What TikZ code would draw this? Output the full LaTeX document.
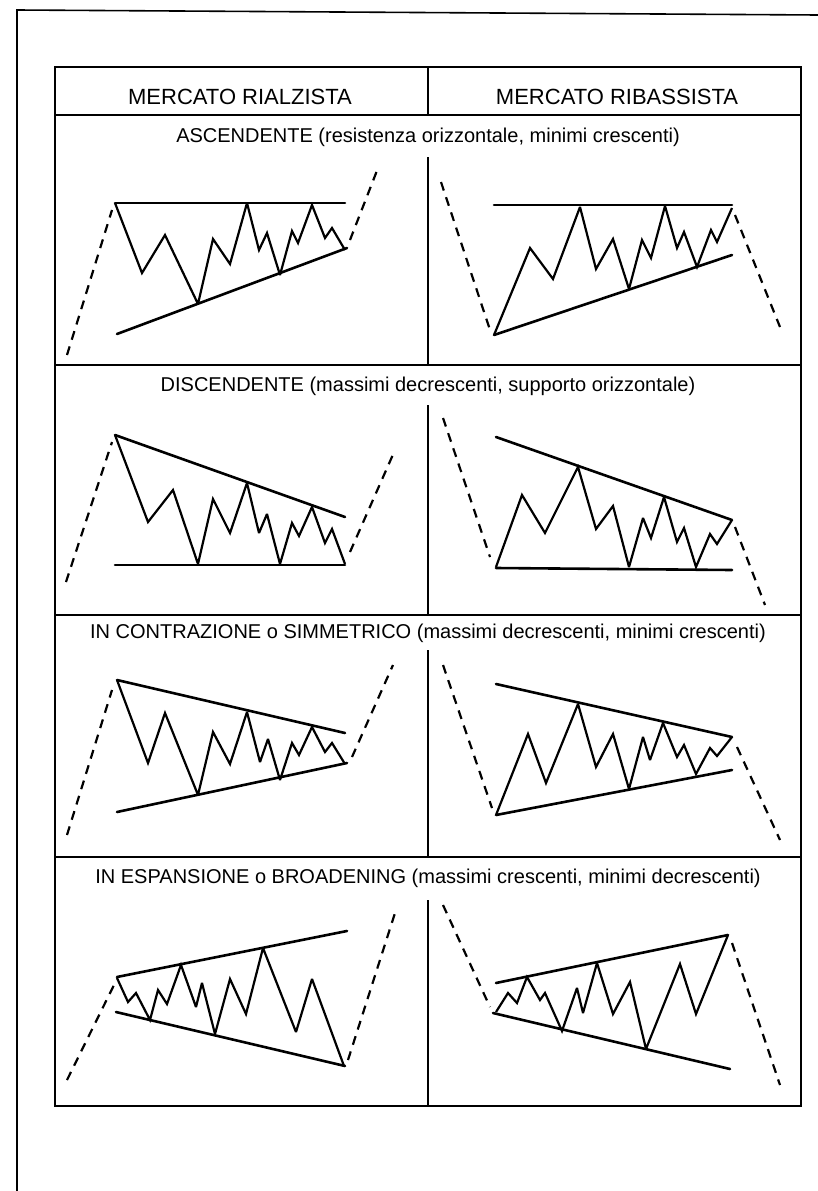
\documentclass[tikz,border=0pt]{standalone}
\usepackage{fontspec}
\setmainfont{Liberation Sans}
\usetikzlibrary{positioning}
\tikzstyle{frame}    = [line width=1.6pt]
\tikzstyle{trend}    = [line width=2.6pt, line cap=round]
\tikzstyle{price}    = [line width=2.2pt, line join=miter, miter limit=3]
\tikzstyle{breakout} = [line width=2.2pt, dash pattern=on 9pt off 7pt]
\tikzstyle{header}   = [inner sep=0pt, font=\fontsize{22}{24}\selectfont]
\tikzstyle{title}    = [inner sep=0pt, font=\fontsize{20}{22}\selectfont]

\begin{document}
\begin{tikzpicture}[x=1pt,y=-1pt]

\useasboundingbox (0,0) rectangle (818,1191);

\draw[frame] (17,1191) -- (17,10) -- (818,15);

\draw[frame] (55,67) rectangle (801,1106);
\draw[frame] (55,115) -- (801,115);
\draw[frame] (55,365) -- (801,365);
\draw[frame] (55,615) -- (801,615);
\draw[frame] (55,857) -- (801,857);

\draw[frame] (428,67) -- (428,115);
\draw[frame] (428,157) -- (428,365);
\draw[frame] (428,405) -- (428,615);
\draw[frame] (428,650) -- (428,857);
\draw[frame] (428,900) -- (428,1106);

\node[header] (bull) at (240,97) {MERCATO RIALZISTA};
\node[header] (bear) at (617,97) {MERCATO RIBASSISTA};

\node[title] (asc) at (428,137) {ASCENDENTE (resistenza orizzontale, minimi crescenti)};
\node[title] (disc) at (428,386) {DISCENDENTE (massimi decrescenti, supporto orizzontale)};
\node[title] (sym) at (428,633) {IN CONTRAZIONE o SIMMETRICO (massimi decrescenti, minimi crescenti)};
\node[title] (broad) at (428,878) {IN ESPANSIONE o BROADENING (massimi crescenti, minimi decrescenti)};

\draw[trend] (115,203) -- (345,203);
\draw[trend] (117,334) -- (347,248);
\draw[price] (115,203) -- (142,273) -- (165,235) -- (198,304) -- (213,239) -- (230,264) -- (247,203) -- (259,250) -- (267,233) -- (280,275) -- (292,231) -- (298,243) -- (312,205) -- (325,238) -- (332,228) -- (345,250);
\draw[breakout] (67,355) -- (112,210);
\draw[breakout] (350,240) -- (378,168);

\draw[trend] (494,205) -- (732,205);
\draw[trend] (494,335) -- (732,255);
\draw[price] (494,335) -- (530,248) -- (553,279) -- (580,207) -- (596,269) -- (613,239) -- (629,289) -- (642,240) -- (651,258) -- (665,206) -- (677,248) -- (684,232) -- (697,267) -- (711,230) -- (717,242) -- (732,208);
\draw[breakout] (441,182) -- (490,330);
\draw[breakout] (735,215) -- (780,327);

\draw[trend] (115,435) -- (345,517);
\draw[trend] (115,565) -- (345,565);
\draw[price] (115,435) -- (148,522) -- (173,490) -- (198,564) -- (213,499) -- (230,533) -- (247,483) -- (259,533) -- (267,514) -- (280,564) -- (292,523) -- (299,536) -- (312,507) -- (325,543) -- (332,529) -- (345,564);
\draw[breakout] (66,582) -- (112,442);
\draw[breakout] (350,552) -- (395,450);

\draw[trend] (496,437) -- (732,520);
\draw[trend] (496,568) -- (732,570);
\draw[price] (496,567) -- (522,495) -- (545,533) -- (578,467) -- (596,529) -- (613,506) -- (629,567) -- (643,518) -- (651,538) -- (664,497) -- (677,542) -- (684,528) -- (696,567) -- (710,534) -- (717,544) -- (732,520);
\draw[breakout] (443,418) -- (490,557);
\draw[breakout] (735,527) -- (765,605);

\draw[trend] (117,680) -- (345,733);
\draw[trend] (117,812) -- (347,763);
\draw[price] (117,680) -- (148,763) -- (165,713) -- (198,795) -- (213,732) -- (230,764) -- (247,712) -- (260,762) -- (268,739) -- (280,780) -- (292,743) -- (299,755) -- (312,727) -- (325,752) -- (332,743) -- (345,764);
\draw[breakout] (67,835) -- (112,690);
\draw[breakout] (352,757) -- (393,665);

\draw[trend] (496,684) -- (732,737);
\draw[trend] (496,815) -- (732,770);
\draw[price] (496,815) -- (528,734) -- (546,783) -- (578,704) -- (596,767) -- (613,734) -- (629,789) -- (643,737) -- (650,760) -- (663,723) -- (677,757) -- (684,745) -- (696,774) -- (710,748) -- (717,756) -- (732,737);
\draw[breakout] (443,665) -- (492,808);
\draw[breakout] (737,747) -- (780,840);

\draw[trend] (117,977) -- (347,931);
\draw[trend] (116,1012) -- (345,1066);
\draw[price] (117,978) -- (128,1002) -- (136,993) -- (150,1020) -- (158,990) -- (167,1004) -- (181,965) -- (196,1007) -- (202,983) -- (215,1034) -- (230,979) -- (246,1014) -- (263,948) -- (296,1032) -- (312,979) -- (344,1066);
\draw[breakout] (67,1080) -- (114,985);
\draw[breakout] (348,1060) -- (395,913);

\draw[trend] (496,983) -- (728,935);
\draw[trend] (493,1013) -- (730,1069);
\draw[price] (496,1012) -- (508,993) -- (517,1003) -- (527,977) -- (540,1000) -- (545,993) -- (562,1031) -- (577,988) -- (583,1013) -- (597,963) -- (613,1014) -- (630,982) -- (646,1049) -- (680,964) -- (696,1014) -- (728,935);
\draw[breakout] (443,905) -- (490,1007);
\draw[breakout] (732,943) -- (780,1085);

\end{tikzpicture}
\end{document}
